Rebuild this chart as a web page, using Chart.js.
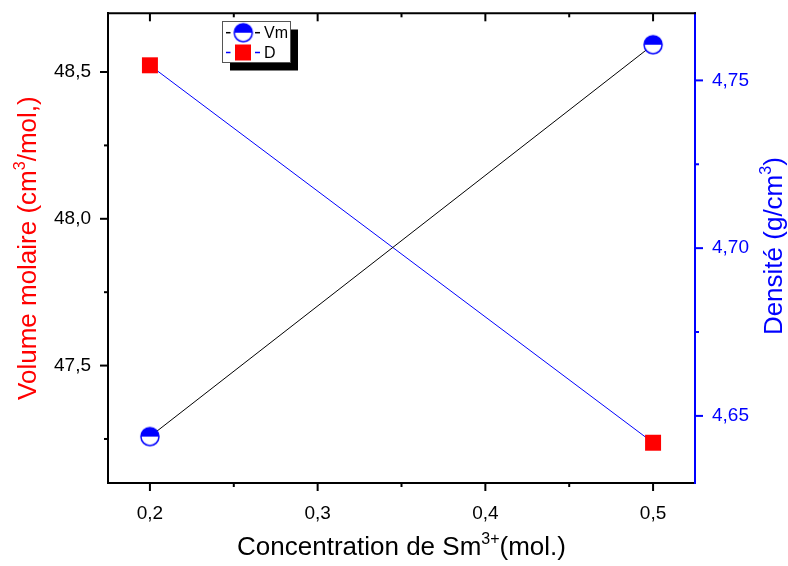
<!DOCTYPE html>
<html>
<head>
<meta charset="utf-8">
<script src="https://cdn.jsdelivr.net/npm/chart.js@4.4.1/dist/chart.umd.min.js"></script>
<style>
  html, body { margin: 0; padding: 0; background: #fff; }
  canvas { display: block; }
</style>
</head>
<body>
<canvas id="densityChart" width="788" height="566"></canvas>
<script>
var concentrations = [0.2, 0.5]
var vmValues = [47.258, 48.593]
var densityValues = [4.7545, 4.642]
var seriesLabels = ["Vm", "D"]

// graduations (majeures + mineures)
var xTickValues = [0.2, 0.25, 0.3, 0.35, 0.4, 0.45, 0.5]
var vmTickValues = [47.25, 47.5, 47.75, 48.0, 48.25, 48.5]
var dTickValues = [4.65, 4.675, 4.7, 4.725, 4.75]

var FONT = "'Liberation Sans', Arial, sans-serif"

function fmt(v, d) { return v.toFixed(d).replace(".", ",") }
function isMajor(v, step) { var r = v / step; return Math.abs(r - Math.round(r)) < 1e-6 }
function setTicks(list) {
   return function (s) { s.ticks = list.map(function (v) { return { value: v } }) }
}
function noPadV(w) {
   return function (s) { s.width = w; s.paddingTop = 0; s.paddingBottom = 0 }
}

// marqueur Vm : cercle moitie bleu / moitie blanc
function halfCircle() {
   var c = document.createElement("canvas")
   c.width = 22; c.height = 22
   var g = c.getContext("2d")
   g.fillStyle = "#fff"
   g.beginPath(); g.arc(11, 11, 9, 0, Math.PI * 2); g.fill()
   g.fillStyle = "#0000ff"
   g.beginPath(); g.arc(11, 11, 9, Math.PI, 0); g.closePath(); g.fill()
   g.strokeStyle = "#0000ff"; g.lineWidth = 1.5
   g.beginPath(); g.arc(11, 11, 9, 0, Math.PI * 2); g.stroke()
   return c
}
var vmMarker = halfCircle()

// texte avec exposant
function drawRich(ctx, parts, size, color) {
   var supSize = Math.round(size * 0.62)
   var total = 0
   parts.forEach(function (p) {
      ctx.font = (p.sup ? supSize : size) + "px " + FONT
      p.w = ctx.measureText(p.t).width
      total += p.w
   })
   var x = -total / 2
   ctx.fillStyle = color
   ctx.textAlign = "left"
   ctx.textBaseline = "alphabetic"
   parts.forEach(function (p) {
      ctx.font = (p.sup ? supSize : size) + "px " + FONT
      ctx.fillText(p.t, x, p.sup ? -size * 0.42 : 0)
      x += p.w
   })
}

var framePlugin = {
   id: "frame",
   afterDraw: function (chart) {
      var ctx = chart.ctx
      var a = chart.chartArea
      var sx = chart.scales.x, sy = chart.scales.y, sy1 = chart.scales.y1
      ctx.save()
      ctx.lineWidth = 2
      // bord superieur
      ctx.strokeStyle = "#000"
      ctx.beginPath(); ctx.moveTo(a.left - 1, a.top); ctx.lineTo(a.right + 1, a.top); ctx.stroke()
      // graduations
      sx.ticks.forEach(function (t) {
         var p = sx.getPixelForValue(t.value)
         var L = t.label !== "" ? 8 : 4
         ctx.beginPath(); ctx.moveTo(p, a.bottom); ctx.lineTo(p, a.bottom + L); ctx.stroke()
         ctx.beginPath(); ctx.moveTo(p, a.top); ctx.lineTo(p, a.top + L); ctx.stroke()
      })
      sy.ticks.forEach(function (t) {
         var p = sy.getPixelForValue(t.value)
         var L = t.label !== "" ? 8 : 4
         ctx.beginPath(); ctx.moveTo(a.left - L, p); ctx.lineTo(a.left, p); ctx.stroke()
      })
      ctx.strokeStyle = "#0000ff"
      sy1.ticks.forEach(function (t) {
         var p = sy1.getPixelForValue(t.value)
         var L = t.label !== "" ? 8 : 4
         ctx.beginPath(); ctx.moveTo(a.right, p); ctx.lineTo(a.right + L, p); ctx.stroke()
      })

      // titres des axes
      var cy = (a.top + a.bottom) / 2
      ctx.save()
      ctx.translate(36, cy); ctx.rotate(-Math.PI / 2)
      drawRich(ctx, [{ t: "Volume molaire (cm" }, { t: "3", sup: true }, { t: "/mol,)" }], 26, "#ff0000")
      ctx.restore()
      ctx.save()
      ctx.translate(781.5, cy - 2); ctx.rotate(-Math.PI / 2)
      drawRich(ctx, [{ t: "Densité (g/cm" }, { t: "3", sup: true }, { t: ")" }], 26, "#0000ff")
      ctx.restore()
      ctx.save()
      ctx.translate((a.left + a.right) / 2, 555)
      drawRich(ctx, [{ t: "Concentration de Sm" }, { t: "3+", sup: true }, { t: "(mol.)" }], 26, "#000")
      ctx.restore()

      // legende
      var bx = 222.5, by = 21.5, bw = 68, bh = 41
      ctx.fillStyle = "#000"
      ctx.fillRect(bx + 7.5, by + 8, bw, bh)
      ctx.fillStyle = "#fff"
      ctx.fillRect(bx, by, bw, bh)
      ctx.lineWidth = 1
      ctx.strokeStyle = "#555"
      ctx.strokeRect(bx, by, bw, bh)
      var rows = [32.7, 52.5]
      chart.data.datasets.forEach(function (ds, i) {
         var y = rows[i]
         ctx.strokeStyle = ds.borderColor
         ctx.lineWidth = 1.5
         ctx.beginPath(); ctx.moveTo(226, y); ctx.lineTo(230.5, y); ctx.stroke()
         ctx.beginPath(); ctx.moveTo(255, y); ctx.lineTo(260, y); ctx.stroke()
         if (i === 0) {
            ctx.drawImage(vmMarker, 243.3 - 11, y - 11)
         } else {
            ctx.fillStyle = ds.pointBackgroundColor
            ctx.fillRect(235, y - 8, 16, 16)
         }
         ctx.fillStyle = "#000"
         ctx.font = "16px " + FONT
         ctx.textAlign = "left"
         ctx.textBaseline = "middle"
         ctx.fillText(ds.label, 264, y + 1)
      })
      ctx.restore()
   },
}

var ctx = document.getElementById("densityChart").getContext("2d")

var chart = new Chart(ctx, {
   type: "line",
   data: {
      datasets: [
         {
            label: seriesLabels[0],
            data: concentrations.map(function (c, i) { return { x: c, y: vmValues[i] } }),
            yAxisID: "y",
            borderColor: "#000000",
            borderWidth: 1,
            pointStyle: vmMarker,
            pointRadius: 10,
            pointHoverRadius: 10,
         },
         {
            label: seriesLabels[1],
            data: concentrations.map(function (c, i) { return { x: c, y: densityValues[i] } }),
            yAxisID: "y1",
            borderColor: "#0000ff",
            borderWidth: 1,
            pointStyle: "rect",
            pointRadius: 11.3,
            pointHoverRadius: 11.3,
            pointBackgroundColor: "#ff0000",
            pointBorderWidth: 0,
         },
      ],
   },
   options: {
      responsive: false,
      animation: false,
      clip: false,
      layout: { padding: { top: 13.3, left: 0, right: 0, bottom: 0 } },
      plugins: {
         legend: { display: false },
         tooltip: { enabled: false },
      },
      scales: {
         x: {
            type: "linear",
            min: 0.175,
            max: 0.525,
            grid: { display: false, drawTicks: false },
            border: { color: "#000", width: 2 },
            afterBuildTicks: setTicks(xTickValues),
            ticks: {
               autoSkip: false,
               maxRotation: 0,
               padding: 19,
               color: "#000",
               font: { family: FONT, size: 19 },
               callback: function (v) { return isMajor(v, 0.1) ? fmt(v, 1) : "" },
            },
            afterFit: function (s) { s.height = 83; s.paddingLeft = 0; s.paddingRight = 0 },
         },
         y: {
            position: "left",
            min: 47.1,
            max: 48.7,
            grid: { display: false, drawTicks: false },
            border: { color: "#000", width: 2 },
            afterBuildTicks: setTicks(vmTickValues),
            ticks: {
               autoSkip: false,
               padding: 17,
               color: "#000",
               font: { family: FONT, size: 19 },
               callback: function (v) { return isMajor(v, 0.5) ? fmt(v, 1) : "" },
            },
            afterFit: noPadV(108),
         },
         y1: {
            position: "right",
            min: 4.63,
            max: 4.77,
            grid: { display: false, drawTicks: false },
            border: { color: "#0000ff", width: 2 },
            afterBuildTicks: setTicks(dTickValues),
            ticks: {
               autoSkip: false,
               padding: 17,
               color: "#0000ff",
               font: { family: FONT, size: 19 },
               callback: function (v) { return isMajor(v, 0.05) ? fmt(v, 2) : "" },
            },
            afterFit: noPadV(93),
         },
      },
   },
   plugins: [framePlugin],
})
</script>
</body>
</html>
